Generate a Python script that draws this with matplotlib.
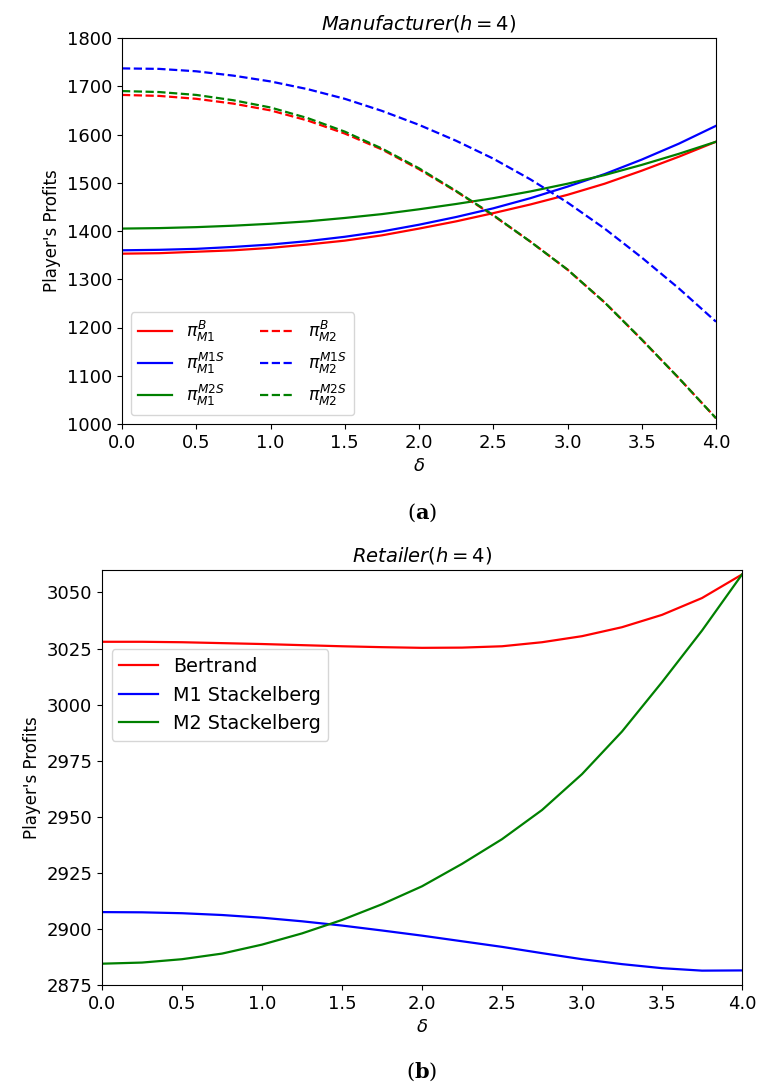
import numpy as np
import matplotlib
matplotlib.use("Agg")
import matplotlib.pyplot as plt

# delta grid shared by all curves
delta = [0.0, 0.25, 0.5, 0.75, 1.0, 1.25, 1.5, 1.75, 2.0,
         2.25, 2.5, 2.75, 3.0, 3.25, 3.5, 3.75, 4.0]

# (a) manufacturer profits, h = 4
m1_bertrand = [1353, 1354, 1357, 1360, 1365, 1372, 1380, 1391, 1405,
               1420, 1437, 1455, 1475, 1498, 1525, 1554, 1585]
m1_m1s = [1360, 1361, 1363, 1367, 1372, 1379, 1388, 1399, 1413,
          1429, 1447, 1468, 1492, 1518, 1548, 1581, 1618]
m1_m2s = [1405, 1406, 1408, 1411, 1415, 1420, 1427, 1435, 1445,
          1456, 1468, 1482, 1498, 1516, 1537, 1560, 1585]
m2_bertrand = [1682, 1680, 1674, 1664, 1650, 1629, 1602, 1569, 1528,
               1482, 1432, 1378, 1320, 1252, 1175, 1095, 1012]
m2_m1s = [1737, 1736, 1731, 1722, 1710, 1694, 1674, 1649, 1620,
          1587, 1550, 1507, 1459, 1405, 1345, 1281, 1212]
m2_m2s = [1690, 1688, 1682, 1671, 1656, 1634, 1606, 1571, 1530,
          1483, 1433, 1378, 1320, 1252, 1175, 1095, 1012]

# (b) retailer profits, h = 4
r_bertrand = [3028, 3028, 3027.8, 3027.4, 3027, 3026.5, 3026, 3025.6, 3025.3,
              3025.4, 3026, 3027.8, 3030.5, 3034.5, 3040, 3047.5, 3058]
r_m1s = [2907.5, 2907.4, 2907, 2906.2, 2905, 2903.4, 2901.5, 2899.3, 2897,
         2894.5, 2892, 2889.2, 2886.5, 2884.3, 2882.5, 2881.4, 2881.5]
r_m2s = [2884.5, 2885, 2886.5, 2889, 2893, 2898, 2904, 2911, 2919,
         2929, 2940, 2953, 2969, 2988, 3010, 3033, 3058]

fig = plt.figure(figsize=(7.57, 10.91), dpi=100)
W, H = 757, 1091

def px_axes(x0, y0, x1, y1):
    return fig.add_axes([x0 / W, 1 - y1 / H, (x1 - x0) / W, (y1 - y0) / H])

fs = 13

# --- manufacturer panel
ax1 = px_axes(122, 38, 716, 424)
ax1.plot(delta, m1_bertrand, color='red', lw=1.6, label=r'$\pi_{M1}^{B}$')
ax1.plot(delta, m1_m1s, color='blue', lw=1.6, label=r'$\pi_{M1}^{M1S}$')
ax1.plot(delta, m1_m2s, color='green', lw=1.6, label=r'$\pi_{M1}^{M2S}$')
ax1.plot(delta, m2_bertrand, color='red', lw=1.6, ls='--', label=r'$\pi_{M2}^{B}$')
ax1.plot(delta, m2_m1s, color='blue', lw=1.6, ls='--', label=r'$\pi_{M2}^{M1S}$')
ax1.plot(delta, m2_m2s, color='green', lw=1.6, ls='--', label=r'$\pi_{M2}^{M2S}$')
ax1.set_xlim(0, 4)
ax1.set_ylim(1000, 1800)
ax1.set_xticks(np.arange(0, 4.01, 0.5))
ax1.set_title(r'$Manufacturer(h=4)$', fontsize=fs + 1)
ax1.set_xlabel(r'$\delta$', fontsize=fs)
ax1.set_ylabel("Player's Profits", fontsize=fs - 1)
ax1.tick_params(labelsize=fs)
ax1.legend(ncol=2, loc='lower left', fontsize=fs - 0.5, labelspacing=0.4)

# --- retailer panel
ax2 = px_axes(102, 570, 742, 985)
ax2.plot(delta, r_bertrand, color='red', lw=1.6, label='Bertrand')
ax2.plot(delta, r_m1s, color='blue', lw=1.6, label='M1 Stackelberg')
ax2.plot(delta, r_m2s, color='green', lw=1.6, label='M2 Stackelberg')
ax2.set_xlim(0, 4)
ax2.set_ylim(2875, 3060)
ax2.set_xticks(np.arange(0, 4.01, 0.5))
ax2.set_yticks(np.arange(2875, 3051, 25))
ax2.set_title(r'$Retailer(h=4)$', fontsize=fs + 1)
ax2.set_xlabel(r'$\delta$', fontsize=fs)
ax2.set_ylabel("Player's Profits", fontsize=fs - 1)
ax2.tick_params(labelsize=fs)
ax2.legend(loc='upper left', bbox_to_anchor=(0.0, 0.832), fontsize=fs + 0.8)

# captions
fig.text(422 / W, 1 - 513 / H, r'$\mathrm{(}\mathbf{a}\mathrm{)}$', ha='center', va='center',
         fontsize=fs + 2, math_fontfamily='dejavuserif')
fig.text(422 / W, 1 - 1072 / H, r'$\mathrm{(}\mathbf{b}\mathrm{)}$', ha='center', va='center',
         fontsize=fs + 2, math_fontfamily='dejavuserif')

fig.savefig('out.png', dpi=100)
